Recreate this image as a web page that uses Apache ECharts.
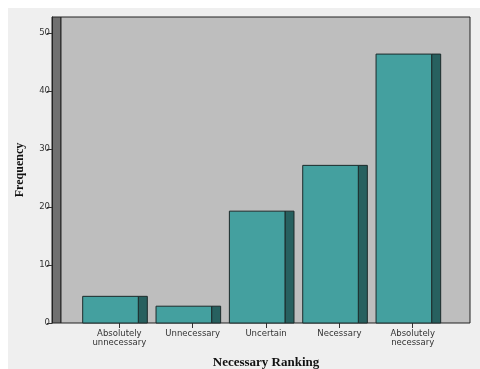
<!DOCTYPE html>
<html>
<head>
<meta charset="utf-8">
<script src="https://cdn.jsdelivr.net/npm/echarts@6/dist/echarts.min.js"></script>
<style>
  html, body { margin: 0; padding: 0; background: #ffffff; }
  #chart { width: 480px; height: 369px; }
</style>
</head>
<body>
<div id="chart"></div>
<script>
var CATEGORIES = ['Absolutely\nunnecessary', 'Unnecessary', 'Uncertain', 'Necessary', 'Absolutely\nnecessary'];
var FREQUENCIES = [4.6, 2.9, 19.3, 27.2, 46.4];
var Y_MAX = 52.8;

var chart = echarts.init(document.getElementById('chart'), null, { renderer: 'canvas' });

// front face + darker side face, like the SPSS 3D bars
function renderBar(params, api) {
  var top = api.coord([api.value(0), api.value(1)]);
  var base = api.coord([api.value(0), 0]);
  var band = api.size([1, 0])[0];
  var x0 = top[0] - band / 2;
  var frontW = band * 0.758;
  var sideW = band * 0.123;
  var h = base[1] - top[1];
  return {
    type: 'group',
    children: [
      { type: 'rect', shape: { x: x0 + frontW, y: top[1], width: sideW, height: h },
        style: { fill: '#27605f', stroke: '#1c2a2a', lineWidth: 1 } },
      { type: 'rect', shape: { x: x0, y: top[1], width: frontW, height: h },
        style: { fill: '#44a09f', stroke: '#1c2a2a', lineWidth: 1 } }
    ]
  };
}

var labelFont = { fontFamily: 'DejaVu Sans', fontSize: 8.5, color: '#333333' };

chart.setOption({
  animation: false,
  backgroundColor: '#ffffff',
  graphic: [{
    type: 'rect', left: 8, top: 8, z: -10, silent: true,
    shape: { width: 472, height: 361 },
    style: { fill: '#efefef' }
  }],
  grid: [
    // wall
    { left: 52, top: 17, width: 9, height: 306, show: true, outerBoundsMode: 'none',
      backgroundColor: '#707070', borderColor: '#222222', borderWidth: 1 },
    // back plane
    { left: 61, top: 17, width: 409, height: 306, show: true, outerBoundsMode: 'none',
      backgroundColor: '#bebebe', borderColor: '#222222', borderWidth: 1 },
    // bars
    { left: 82.7, top: 17, width: 366.7, height: 306, outerBoundsMode: 'none' }
  ],
  xAxis: [
    { gridIndex: 0, type: 'value', show: false },
    { gridIndex: 1, type: 'value', show: false },
    {
      gridIndex: 2, type: 'category', data: CATEGORIES,
      name: 'Necessary Ranking', nameLocation: 'middle', nameGap: 33,
      nameTextStyle: { fontFamily: 'Liberation Serif', fontWeight: 'bold', fontSize: 13, color: '#111111' },
      axisLine: { show: false },
      axisTick: { show: true, alignWithLabel: true, length: 5, lineStyle: { color: '#333333' } },
      axisLabel: Object.assign({ margin: 6, lineHeight: 9.5, interval: 0 }, labelFont)
    }
  ],
  yAxis: [
    {
      gridIndex: 0, type: 'value', min: 0, max: Y_MAX, interval: 10,
      name: 'Frequency', nameLocation: 'middle', nameGap: 26,
      nameTextStyle: { fontFamily: 'Liberation Serif', fontWeight: 'bold', fontSize: 12, color: '#111111' },
      axisLine: { show: true, lineStyle: { color: '#222222' } },
      axisTick: { show: true, length: 5, lineStyle: { color: '#333333' } },
      axisLabel: Object.assign({ margin: 2, showMaxLabel: false }, labelFont),
      splitLine: { show: false }
    },
    { gridIndex: 1, type: 'value', min: 0, max: Y_MAX, show: false },
    { gridIndex: 2, type: 'value', min: 0, max: Y_MAX, show: false }
  ],
  series: [{
    type: 'custom',
    xAxisIndex: 2, yAxisIndex: 2,
    renderItem: renderBar,
    data: FREQUENCIES.map(function (v, i) { return [i, v]; })
  }]
});
</script>
</body>
</html>
